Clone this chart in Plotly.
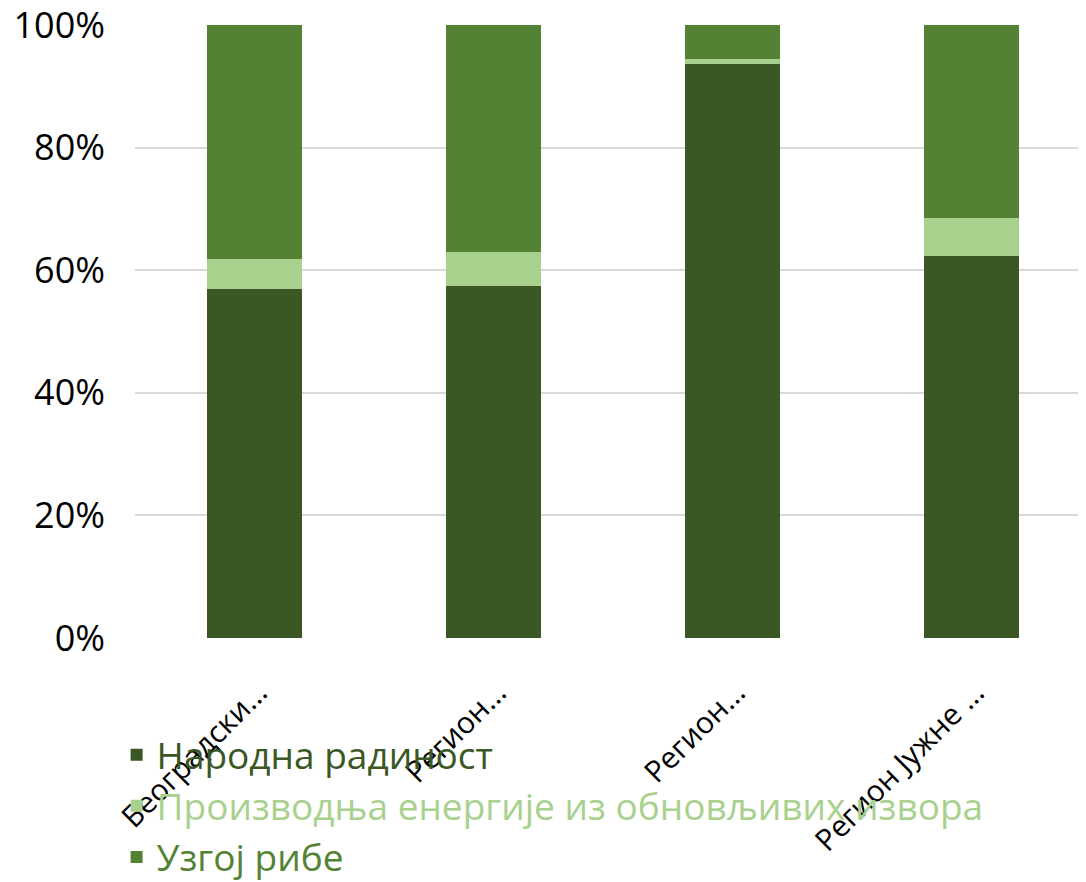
import plotly.graph_objects as go

categories = ["Београдски регион", "Регион Војводине",
              "Регион Шумадије и Западне Србије", "Регион Јужне и Источне Србије"]
tick_labels = ["Београдски…", "Регион…", "Регион…", "Регион Јужне …"]

series_names = ["Народна радиност", "Производња енергије из обновљивих извора", "Узгој рибе"]
narodna = [57.0, 57.4, 93.6, 62.3]
energija = [4.8, 5.5, 0.8, 6.2]
riba = [38.2, 37.1, 5.6, 31.5]
colors = ["#3A5724", "#A9D18E", "#548235"]

y_ticks = [0, 20, 40, 60, 80, 100]
y_tick_text = ["0%", "20%", "40%", "60%", "80%", "100%"]

fig = go.Figure()
for name, vals, col in zip(series_names, [narodna, energija, riba], colors):
    fig.add_trace(go.Bar(
        x=categories, y=vals, width=0.4,
        name=f"<span style='color:{col}'>{name}</span>",
        legendgroup=name,
        marker=dict(color=col, line=dict(width=0)),
    ))

fig.update_layout(
    barmode="stack",
    width=1086, height=882,
    margin=dict(l=127, r=8, t=17, b=252, autoexpand=False),
    paper_bgcolor="white", plot_bgcolor="white",
    font=dict(family="Open Sans", color="black"),
    legend=dict(
        xref="container", yref="container",
        x=0.1, y=0.188, xanchor="left", yanchor="top",
        traceorder="normal", tracegroupgap=4,
        font=dict(size=37, family="Open Sans"),
        bgcolor="rgba(0,0,0,0)",
    ),
    xaxis=dict(
        range=[-0.5, 3.48], automargin=False,
        tickvals=categories, ticktext=tick_labels,
        tickangle=-45, tickfont=dict(size=30, color="black"),
        ticklabelstandoff=30, ticklabelshift=4,
        showgrid=False, showline=False, ticks="",
    ),
    yaxis=dict(
        range=[0, 100], tickvals=y_ticks, ticktext=y_tick_text,
        automargin=False, ticklabeloverflow="allow",
        tickfont=dict(size=36, color="black"),
        showgrid=True, gridcolor="#D9D9D9", gridwidth=2,
        zeroline=False, showline=False, ticks="",
        ticklabelstandoff=29,
    ),
)

fig.write_html("out.html")
